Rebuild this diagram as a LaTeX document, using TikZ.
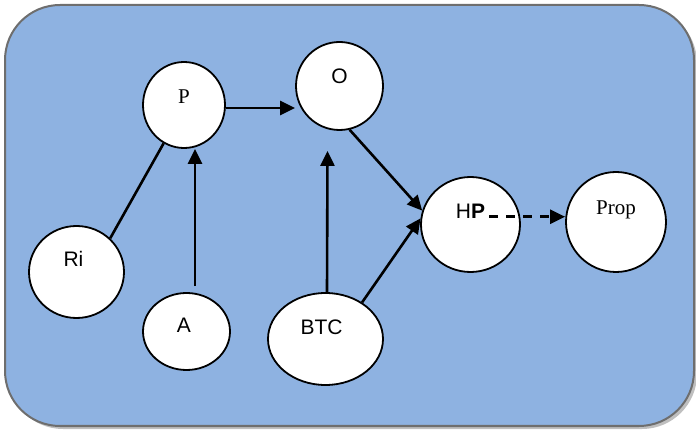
\documentclass[tikz,border=0pt]{standalone}
\usepackage{fontspec}
\setmainfont{Liberation Serif}
\setsansfont{Liberation Sans}
\usetikzlibrary{arrows.meta,calc,shapes.geometric}
\definecolor{panel}{RGB}{142,178,225}
\definecolor{rahmen}{RGB}{110,110,110}

\begin{document}
\begin{tikzpicture}[
		x=1pt, y=1pt,
		>={Triangle[length=15pt,width=14pt]},
		font=\fontsize{21}{25}\selectfont\sffamily,
		every label/.append style={inner sep=0pt},
		knoten/.style={
			draw, ellipse, fill=white, line width=1.8pt, inner sep=0pt
		},
		pfeil/.style={->, line width=2.6pt},
		linie/.style={line width=2.6pt}
		]
		\useasboundingbox (0,0) rectangle (696,431);
		% ---- Hintergrund mit Schatten
		\fill[black!25, rounded corners=55pt] (8,2) rectangle (697,423);
		\filldraw[fill=panel, draw=rahmen, line width=2pt, rounded corners=55pt] (5,5) rectangle (694,426);
		
		% ---- Knoten (Text jeweils etwas oberhalb der Mitte)
		\node[knoten, minimum width=82pt,  minimum height=86pt,  label={[yshift=8pt]center:{\rmfamily P}}]               (p)    at (184,326)   {};
		\node[knoten, minimum width=87pt,  minimum height=88pt,  label={[yshift=10pt]center:O}]                          (o)    at (339.5,345) {};
		\node[knoten, minimum width=95pt,  minimum height=92pt,  label={[xshift=-3pt,yshift=13pt]center:Ri}]             (ri)   at (76.5,159)  {};
		\node[knoten, minimum width=87pt,  minimum height=77pt,  label={[xshift=-2.5pt,yshift=6.5pt]center:A}]           (a)    at (186.5,99.5) {};
		\node[knoten, minimum width=115pt, minimum height=92pt,  label={[xshift=-4pt,yshift=12pt]center:BTC}]            (btc)  at (325.5,92)  {};
		\node[knoten, minimum width=99pt,  minimum height=95pt,  label={[name=hptxt,yshift=13pt]center:H\textbf{P}}]     (hp)   at (470.5,206.5) {};
		\node[knoten, minimum width=100pt, minimum height=100pt, label={[yshift=12pt]center:{\rmfamily Prop}}]           (prop) at (616,209)   {};
		
		% ---- Verbindungen
		\draw[linie] (ri.45) -- (p.242);
		\draw[pfeil] ($(p.east)+(0,-3)$) -- ($(p.east -| o.west)+(0,-3)$);
		\draw[pfeil] ($(a.north)+(8.5,6)$) -- ($(a.north |- p.south)+(8.5,0)$);
		\draw[pfeil] ($(btc.north)+(1.5,0)$) -- ($(o.south)+(-12,-20)$);
		\draw[pfeil] (o.283) -- (hp.164);
		\draw[pfeil] (btc.45) -- (hp.173);
		
		% ---- gestrichelt von HP nach Prop
		\draw[pfeil, dash pattern=on 9pt off 8pt] ($(hptxt.base east)+(4,2)$) -- ($(hptxt.base east -| prop.west)+(0,2)$);
	\end{tikzpicture}
\end{document}
